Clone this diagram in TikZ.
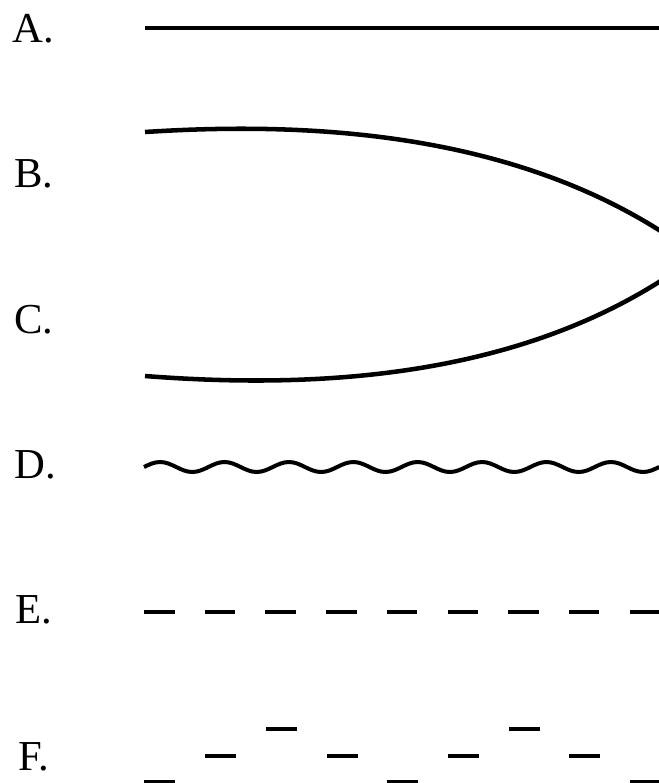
\documentclass[tikz,border=0pt]{standalone}
\usepackage{fontspec}
\setmainfont{Liberation Serif}
\begin{document}
\begin{tikzpicture}[x=0.75pt,y=-0.75pt,
  lbl/.style={anchor=base west,inner sep=0pt,font=\fontsize{32}{38}\selectfont},
  thick line/.style={line width=3.4pt,line cap=butt},
  wave line/.style={line width=3pt},
  dashbar/.style={line width=3.6pt,line cap=butt}]
\useasboundingbox (0,0) rectangle (659,783);
\clip (0,0) rectangle (659,783);
% labels
\node[lbl] (la) at (12,42) {A.};
\node[lbl] (lb) at (14,187) {B.};
\node[lbl] (lc) at (14,333) {C.};
\node[lbl] (ld) at (14,478) {D.};
\node[lbl] (le) at (15,623) {E.};
\node[lbl] (lf) at (18,770) {F.};
% A
\coordinate (a1) at (145,28);
\coordinate (a2) at (665,28);
\draw[thick line] (a1) -- (a2);
% B / C curve
\draw[thick line] (145,132) .. controls (300,122) and (500,130) .. (659,230)
   .. controls (700,256) and (700,256) .. (659,282)
   .. controls (500,382) and (300,388) .. (145,376);
% D wave
\draw[wave line] (144,467)
  \foreach \i in {0,...,7} {
    sin ++(16.1,-5) cos ++(16.1,5) sin ++(16.1,5) cos ++(16.1,-5)
  };
% E dashes
\foreach \k in {0,...,8} {
  \draw[dashbar] ({144+60.7*\k},612) -- ++(30.5,0);
}
% F dashes
\foreach \xx in {266,509} {\draw[dashbar] (\xx,729) -- ++(30.5,0);}
\foreach \xx in {205,327,448,569} {\draw[dashbar] (\xx,756) -- ++(30.5,0);}
\foreach \xx in {144,387,630} {\draw[dashbar] (\xx,782.5) -- ++(30.5,0);}
\end{tikzpicture}
\end{document}
